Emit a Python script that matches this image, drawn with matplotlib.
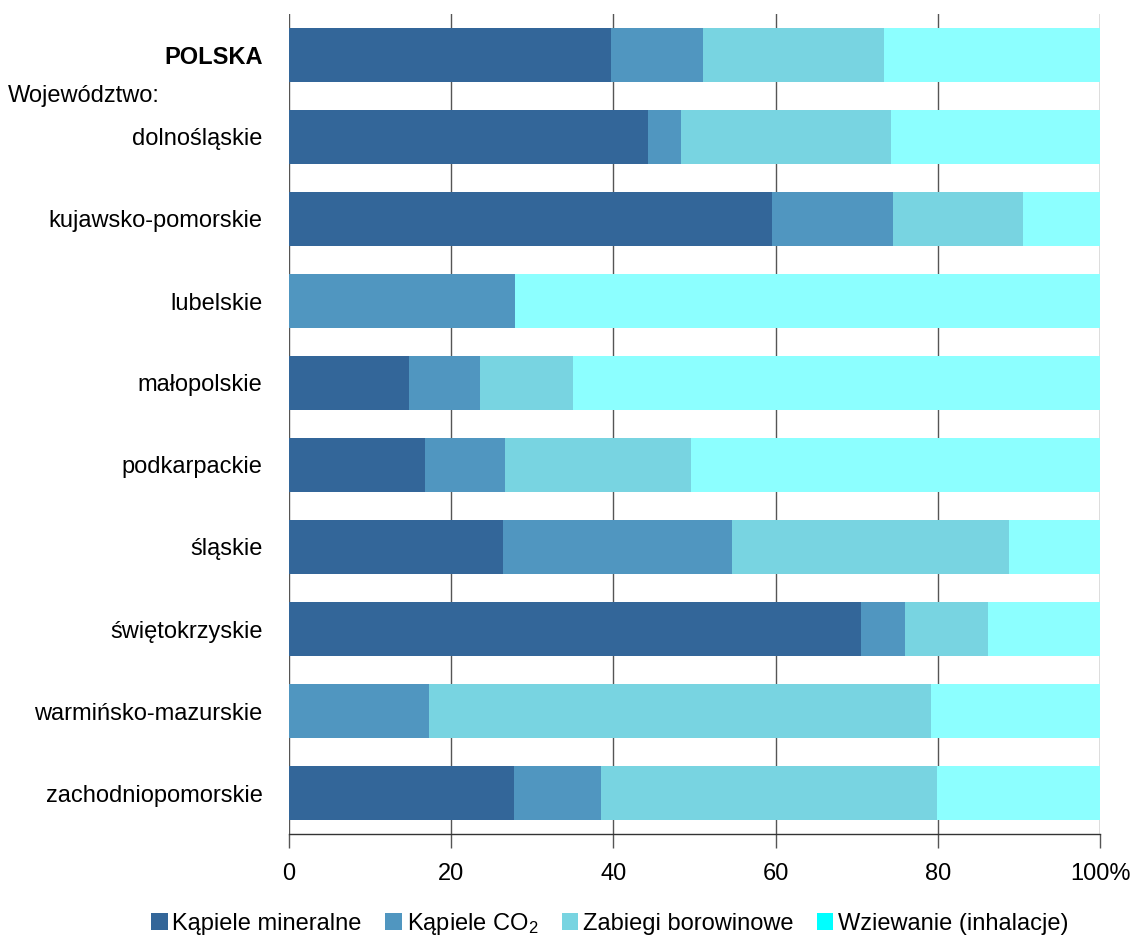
"""Stacked horizontal bars: spa treatment mix by voivodeship (share, %)."""

import matplotlib
matplotlib.use("Agg")
import matplotlib.pyplot as plt
import matplotlib.patches as mpatches
import matplotlib.transforms as mtransforms
import numpy as np

plt.rcParams["font.family"] = ["Liberation Sans", "DejaVu Sans"]
plt.rcParams["mathtext.default"] = "regular"

# Colours of the bar segments and of the legend swatches
COLOR_MINERAL = "#336699"
COLOR_CO2 = "#5096C0"
COLOR_BOROWINA = "#78D4E1"
COLOR_INHAL_BAR = "#8CFFFF"
COLOR_INHAL_LEG = "#00FFFF"

regions = [
    "POLSKA",
    "dolnośląskie",
    "kujawsko-pomorskie",
    "lubelskie",
    "małopolskie",
    "podkarpackie",
    "śląskie",
    "świętokrzyskie",
    "warmińsko-mazurskie",
    "zachodniopomorskie",
]

kapiele_mineralne = [39.7, 44.3, 59.6, 0.0, 14.8, 16.8, 26.4, 70.5, 0.0, 27.8]
kapiele_co2 = [11.3, 4.0, 14.9, 27.9, 8.8, 9.8, 28.2, 5.5, 17.3, 10.7]
zabiegi_borowinowe = [22.4, 25.9, 16.0, 0.0, 11.4, 23.0, 34.2, 10.2, 61.8, 41.4]
wziewanie = [26.6, 25.8, 9.5, 72.1, 65.0, 50.4, 11.2, 13.8, 20.9, 20.1]

series_labels = ["Kąpiele mineralne", "Kąpiele CO$_2$", "Zabiegi borowinowe",
                 "Wziewanie (inhalacje)"]
x_ticks = [0, 20, 40, 60, 80, 100]
x_ticklabels = ["0", "20", "40", "60", "80", "100%"]

fig = plt.figure(figsize=(11.4, 9.38), dpi=100)
ax = fig.add_axes([289 / 1140, 1 - 834 / 938, (1100 - 289) / 1140, (834 - 14) / 938])

y = np.arange(len(regions))
left = np.zeros(len(regions))
series = [
    (kapiele_mineralne, COLOR_MINERAL),
    (kapiele_co2, COLOR_CO2),
    (zabiegi_borowinowe, COLOR_BOROWINA),
    (wziewanie, COLOR_INHAL_BAR),
]
for vals, color in series:
    vals = np.array(vals)
    ax.barh(y, vals, left=left, height=0.66, color=color, linewidth=0, zorder=3)
    left += vals

ax.set_xlim(0, 100)
ax.set_ylim(len(regions) - 0.5, -0.5)
ax.set_xticks(x_ticks)
ax.set_xticklabels(x_ticklabels, fontsize=17)
ax.set_yticks(y)
ax.set_yticklabels(regions, fontsize=17)
ax.get_yticklabels()[0].set_fontweight("bold")
ax.tick_params(axis="y", length=0, pad=19)
ax.tick_params(axis="x", direction="out", length=10, width=1, color="#555555", pad=11)

ax.grid(axis="x", color="#555555", linewidth=1)
ax.set_axisbelow(True)
for side in ("top", "right", "left"):
    ax.spines[side].set_visible(False)
ax.spines["bottom"].set_color("#333333")
ax.spines["bottom"].set_linewidth(1)

# "Województwo:" sub-header between POLSKA and the regions
trans = mtransforms.blended_transform_factory(fig.transFigure, ax.transData)
ax.text(8 / 1140, 0.5, "Województwo:", fontsize=17, ha="left", va="center",
        transform=trans)

handles = [
    mpatches.Patch(facecolor=COLOR_MINERAL, label=series_labels[0]),
    mpatches.Patch(facecolor=COLOR_CO2, label=series_labels[1]),
    mpatches.Patch(facecolor=COLOR_BOROWINA, label=series_labels[2]),
    mpatches.Patch(facecolor=COLOR_INHAL_LEG, label=series_labels[3]),
]
fig.legend(handles=handles, loc="center", bbox_to_anchor=(0.535, 1 - 924 / 938), ncol=4,
           frameon=False, fontsize=17, handlelength=0.7, handleheight=0.7,
           handletextpad=0.2, columnspacing=1.0, borderpad=0.1)

fig.savefig("out.png", dpi=100)
